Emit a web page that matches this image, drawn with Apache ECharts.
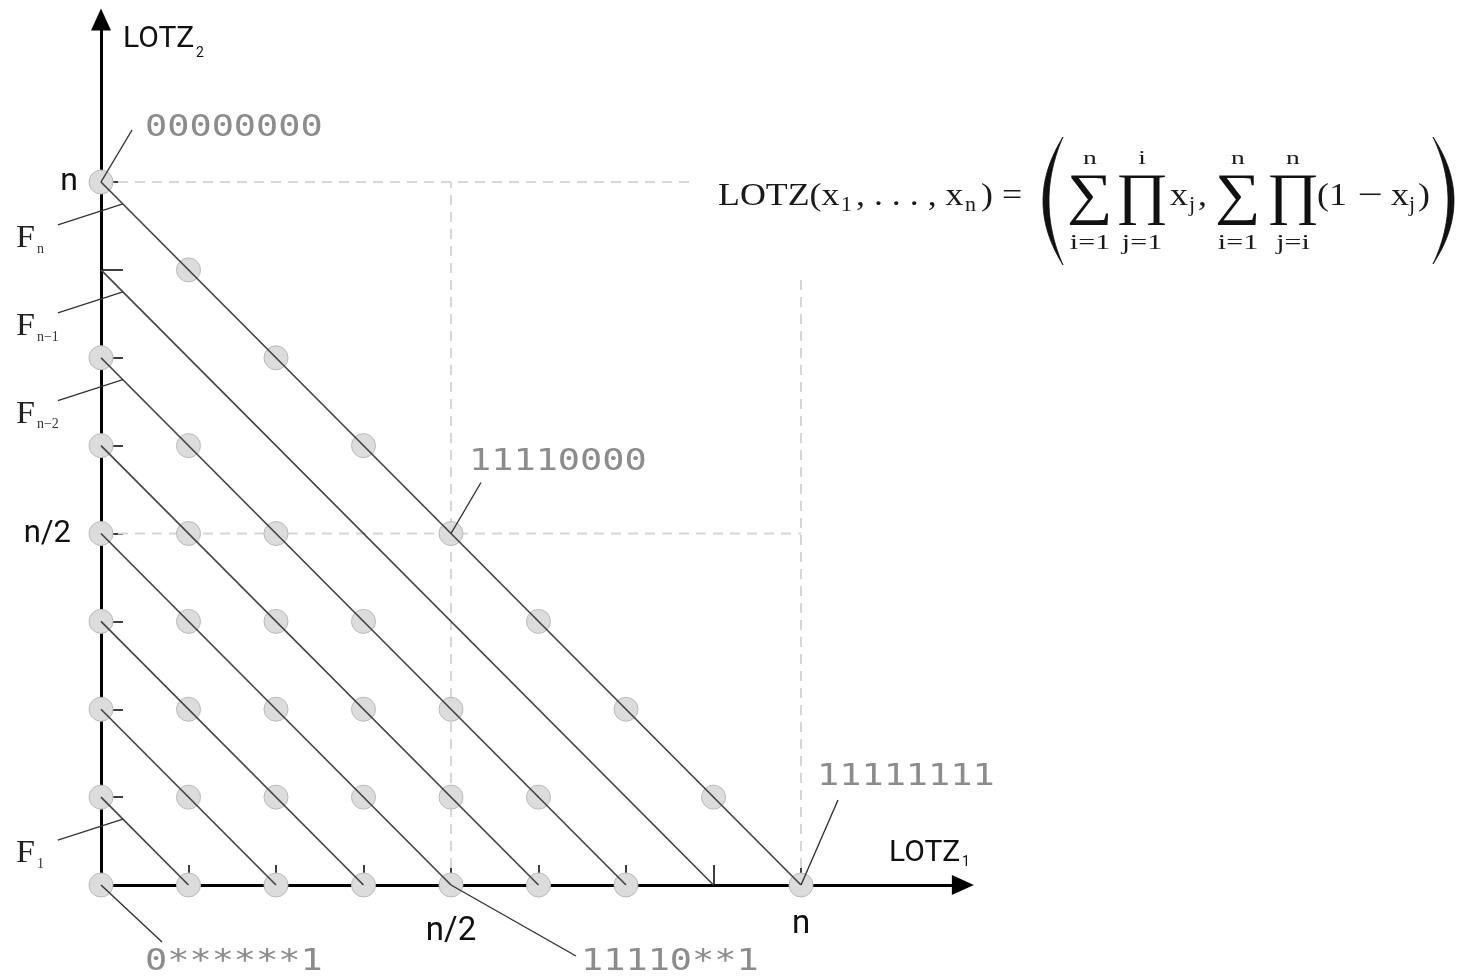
<!DOCTYPE html>
<html><head><meta charset="utf-8">
<script src="https://cdn.jsdelivr.net/npm/echarts@6/dist/echarts.min.js"></script>
<style>html,body{margin:0;padding:0;background:#fff}#c{width:1465px;height:977px}</style>
</head><body><div id="c"></div>
<script>
// ---------- data ----------
const paretoPoints = [
  [0,0],
  [0,1],[1,0],
  [0,2],[1,1],[2,0],
  [0,3],[1,2],[2,1],[3,0],
  [0,4],[1,3],[2,2],[3,1],[4,0],
  [0,5],[1,4],[2,3],[3,2],[4,1],[5,0],
  [0,6],[1,5],[2,4],[3,3],[4,2],[5,1],[6,0],
  [0,8],[1,7],[2,6],[3,5],[4,4],[5,3],[6,2],[7,1],[8,0]
];
const frontIntercepts = [1,2,3,4,5,6,7,8];
const xTicks = [1,2,3,4,5,6,7,8];
const yTicks = [1,2,3,4,5,6,7,8];
const guideLines = [
  [[0,8],[6.8,8]],
  [[4,0],[4,8]],
  [[0,4],[8,4]],
  [[8,0],[8,6.95]]
];
const bitStrings = ['00000000','11110000','11111111','0******1','11110**1'];
const bitAnchors = [[0,8],[4,4],[8,0],[0,0],[4,0]];
const frontNames = ['n','n\u22121','n\u22122','1'];
const frontLevels = [8,7,6,1];
const xTickLabels = [{v:4,t:'n/2'},{v:8,t:'n'}];
const yTickLabels = [{v:4,t:'n/2'},{v:8,t:'n'}];

// ---------- layout ----------
const UX = 87.5, UY = 87.875, X0 = 101, Y0 = 885, AXMAX = 9.85;
const chart = echarts.init(document.getElementById('c'), null, {renderer:'canvas'});

const series = [];
guideLines.forEach(g => series.push({
  type:'line', data:g, symbol:'none', silent:true, z:1,
  lineStyle:{color:'#d6d6d6', width:2, type:[10,7]}
}));
series.push({
  type:'scatter', data:paretoPoints, symbolSize:24, z:2, silent:true,
  itemStyle:{color:'#dcdcdc', borderColor:'#bababa', borderWidth:1, opacity:1}
});
frontIntercepts.forEach(k => series.push({
  type:'line', data:[[0,k],[k,0]], symbol:'none', silent:true, z:3,
  lineStyle:{color:'#444', width:1.7}
}));

const axisCommon = {
  type:'value', min:0, max:AXMAX,
  axisLine:{show:true, onZero:false, symbol:['none','triangle'], symbolSize:[20,22],
    lineStyle:{color:'#000', width:3}},
  axisLabel:{show:false}, splitLine:{show:false}
};
chart.setOption({
  animation:false,
  backgroundColor:'#ffffff',
  grid:{left:X0, top:Y0-AXMAX*UY, width:AXMAX*UX, height:AXMAX*UY, outerBoundsMode:'none', containLabel:false},
  xAxis:Object.assign({}, axisCommon, {
    axisTick:{show:true, inside:true, length:20, customValues:xTicks, lineStyle:{color:'#000', width:1.5}}
  }),
  yAxis:Object.assign({}, axisCommon, {
    axisTick:{show:true, inside:true, length:22, customValues:yTicks, lineStyle:{color:'#000', width:1.5}}
  }),
  series:series
});

function px(p){ return chart.convertToPixel({gridIndex:0}, p); }
const G = [];
function txt(t, x, y, o){
  o = o || {};
  G.push({type:'text', x:x, y:y, z:20, scaleX:o.sx||1, scaleY:o.sy||1, silent:true,
    style:{text:t, fontSize:o.size||30, fontFamily:o.font||'Roboto', fill:o.color||'#111',
      align:o.align||'left', verticalAlign:'middle'}});
}
function seg(a, b, o){
  o = o || {};
  G.push({type:'line', z:20, silent:true, shape:{x1:a[0], y1:a[1], x2:b[0], y2:b[1]},
    style:{stroke:o.color||'#333', lineWidth:o.w||1.4}});
}

// axis names
txt('LOTZ', 123, 39, {size:30});
txt('2', 196, 53, {size:14});
txt('LOTZ', 889, 853, {size:30});
txt('1', 962, 862, {size:14});

// tick labels
xTickLabels.forEach(l => { const p = px([l.v,0]); txt(l.t, p[0], p[1] + (l.t==='n'?40:47), {size:33, align:'center'}); });
yTickLabels.forEach(l => { const p = px([0,l.v]); txt(l.t, p[0] - (l.t==='n'?23:30), p[1] + (l.t==='n'?0:1), {size:l.t==='n'?32:31, align:'right'}); });

// bit-string annotations
const bitTextOff = [[44,-54],[18,-71],[16,-108],[44,77],[130,77]];
const bitLeadOff = [[31,-52],[30,-51],[37,-85],[61,57],[125,71]];
bitStrings.forEach((s,i) => {
  const p = px(bitAnchors[i]);
  seg(p, [p[0]+bitLeadOff[i][0], p[1]+bitLeadOff[i][1]], {w:1.4});
  txt(s, p[0]+bitTextOff[i][0], p[1]+bitTextOff[i][1], {font:'DejaVu Sans Mono', size:30, sx:1.23, color:'#8c8c8c'});
});

// front labels F_n ...
frontLevels.forEach((k,i) => {
  const e = px([0.25, k-0.25]);
  const s = [e[0]-65, e[1]+21];
  seg(s, e, {w:1.3});
  txt('F', s[0]-42, s[1]+14, {font:'Liberation Serif', size:31, sx:1.1, color:'#222'});
  txt(frontNames[i], s[0]-21, s[1]+24, {font:'Liberation Serif', size:14, color:'#333'});
});

// formula
const SF = 'Liberation Serif', FC = '#1a1a1a';
const MY = 197; // middle for main size 32
txt('LOTZ(x', 718, MY, {font:SF, size:32, sx:1.12, color:FC});
txt('1', 841, 206, {font:SF, size:20, sx:1.1, color:FC});
txt(', . . . , x', 856, MY, {font:SF, size:32, sx:1.12, color:FC});
txt('n', 965, 206, {font:SF, size:20, sx:1.1, color:FC});
txt(') =', 981, MY, {font:SF, size:32, sx:1.12, color:FC});
const bigOps = [['\u2211',1090],['\u220F',1142],['\u2211',1238],['\u220F',1293]];
const upLim = ['n','i','n','n'];
const lowLim = ['i=1','j=1','i=1','j=i'];
bigOps.forEach((b,i) => {
  txt(b[0], b[1], 198, {font:SF, size:57, sx:1.12, align:'center', color:'#111'});
  txt(upLim[i], b[1], 159, {font:SF, size:19, sx:1.45, align:'center', color:FC});
  txt(lowLim[i], b[1], 244, {font:SF, size:20, sx:1.5, align:'center', color:FC});
});
txt('x', 1170, MY, {font:SF, size:32, sx:1.12, color:FC});
txt('j', 1189, 206, {font:SF, size:20, sx:1.1, color:FC});
txt(',', 1198, MY, {font:SF, size:32, sx:1.12, color:FC});
txt('(1', 1317, MY, {font:SF, size:32, sx:1.12, color:FC});
txt('\u2212', 1370, MY, {font:SF, size:32, sx:1.4, align:'center', color:FC});
txt('x', 1391, MY, {font:SF, size:32, sx:1.12, color:FC});
txt('j', 1409, 206, {font:SF, size:20, sx:1.1, color:FC});
txt(')', 1418, MY, {font:SF, size:32, sx:1.12, color:FC});

function paren(xEnd, xOut, xIn, yT, yB){
  const pts = [], N = 40, ym = (yT+yB)/2;
  const cO = 2*xOut - xEnd, cI = 2*xIn - xEnd;
  for (let i=0;i<=N;i++){ const t=i/N; pts.push([(1-t)*(1-t)*xEnd+2*t*(1-t)*cO+t*t*xEnd, (1-t)*(1-t)*yT+2*t*(1-t)*ym+t*t*yB]); }
  for (let i=N;i>=0;i--){ const t=i/N; pts.push([(1-t)*(1-t)*xEnd+2*t*(1-t)*cI+t*t*xEnd, (1-t)*(1-t)*yT+2*t*(1-t)*ym+t*t*yB]); }
  G.push({type:'polygon', z:20, silent:true, shape:{points:pts}, style:{fill:'#111', stroke:'#111', lineWidth:0.8}});
}
paren(1063, 1043, 1049, 137, 265);
paren(1433, 1454, 1448, 137, 264);

chart.setOption({graphic:G});
</script></body></html>
